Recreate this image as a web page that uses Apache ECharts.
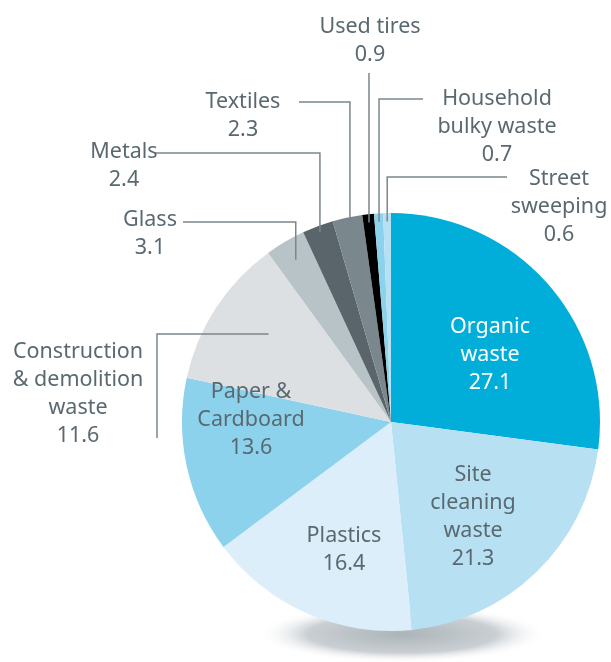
<!DOCTYPE html>
<html>
<head>
<meta charset="utf-8">
<script src="https://cdn.jsdelivr.net/npm/echarts@6/dist/echarts.min.js"></script>
<style>html,body{margin:0;padding:0;background:#fff}#c{width:611px;height:662px}</style>
</head>
<body>
<div id="c"></div>
<script>
// ---- data ----
const categories = [
  'Organic\nwaste',
  'Site\ncleaning\nwaste',
  'Plastics',
  'Paper &\nCardboard',
  'Construction\n& demolition\nwaste',
  'Glass',
  'Metals',
  'Textiles',
  'Used tires',
  'Household\nbulky waste',
  'Street\nsweeping'
];
const values = [27.1, 21.3, 16.4, 13.6, 11.6, 3.1, 2.4, 2.3, 0.9, 0.7, 0.6];

// ---- styles / layout ----
const colors = ['#00aed9', '#b7e0f2', '#dceef9', '#8cd2ed', '#dce0e3', '#b8c3c7',
                '#59656b', '#7a878d', '#000000', '#8cd2ed', '#b7e0f2'];
const textColor = '#5a6970';
const CX = 391, CY = 422, R = 209;
// label centre positions
const labelPos = [
  [490, 355], [473, 517], [344, 550], [251, 420], [78, 394],
  [150, 234], [124, 166], [243, 116], [370, 41], [497, 127], [559, 207]
];
// leader routing: [type, k(anchor radius fraction), elbow, end, (h: line y)]
const routes = [
  null, null, null, null,
  ['h', 0.70, 157, 438, 334],
  ['v', 0.90, 222, 183],
  ['v', 0.97, 153, 155],
  ['v', 0.94, 102, 299],
  ['s', 0.96, 73, null],
  ['v', 0.96, 99, 423],
  ['v', 0.96, 177, 507]
];
const insideIdx = [0, 1, 2, 3];

const total = values.reduce((a, b) => a + b, 0);
function anchorOf(i, k) {
  let before = 0;
  for (let j = 0; j < i; j++) before += values[j];
  const mid = (before + values[i] / 2) / total * Math.PI * 2; // clockwise from top
  return [CX + Math.sin(mid) * R * k, CY - Math.cos(mid) * R * k];
}

const sliceData = categories.map((n, i) => ({
  name: n, value: values[i], itemStyle: { color: colors[i] }
}));
const labelData = categories.map((n, i) => {
  const inside = insideIdx.indexOf(i) >= 0;
  return {
    name: n,
    value: values[i],
    label: inside ? { position: 'inside', color: i === 0 ? '#ffffff' : textColor } : {},
    labelLine: { show: !inside }
  };
});

const common = {
  type: 'pie',
  center: [CX, CY],
  radius: [0, R],
  startAngle: 90,
  clockwise: true,
  avoidLabelOverlap: false,
  minShowLabelAngle: 0,
  emphasis: { disabled: true },
  silent: true
};

const chart = echarts.init(document.getElementById('c'), null, { renderer: 'canvas' });
chart.setOption({
  animation: false,
  backgroundColor: '#ffffff',
  graphic: [{
    type: 'circle',
    z: 0,
    x: 402, y: 634,
    scaleY: 0.2,
    shape: { cx: 0, cy: 0, r: 145 },
    style: {
      fill: {
        type: 'radial', x: 0.5, y: 0.5, r: 0.5,
        colorStops: [
          { offset: 0, color: 'rgba(172,180,185,1)' },
          { offset: 0.65, color: 'rgba(198,204,208,0.95)' },
          { offset: 1, color: 'rgba(255,255,255,0)' }
        ]
      }
    }
  }],
  series: [
    Object.assign({}, common, {
      z: 2,
      itemStyle: { borderWidth: 0 },
      label: { show: false },
      labelLine: { show: false },
      data: sliceData
    }),
    Object.assign({}, common, {
      z: 3,
      itemStyle: { color: 'rgba(0,0,0,0)', borderWidth: 0 },
      label: {
        show: true,
        position: 'outside',
        alignTo: 'none',
        formatter: '{b}\n{c}',
        color: textColor,
        fontFamily: 'Noto Sans',
        fontSize: 21.5,
        lineHeight: 28,
        align: 'center'
      },
      labelLine: {
        show: true,
        lineStyle: { color: '#7b878c', width: 1.5 }
      },
      labelLayout: function (p) {
        const i = p.dataIndex;
        const pos = labelPos[i];
        const out = { x: pos[0], y: pos[1], align: 'center', verticalAlign: 'middle' };
        const r = routes[i];
        if (r) {
          const a = anchorOf(i, r[1]);
          let pts;
          if (r[0] === 'h') pts = [[a[0], r[4]], [r[2], r[4]], [r[2], r[3]]];
          else if (r[0] === 's') pts = [a, [a[0], (a[1] + r[2]) / 2], [a[0], r[2]]];
          else pts = [a, [a[0], r[2]], [r[3], r[2]]];
          out.labelLinePoints = pts;
        }
        return out;
      },
      data: labelData
    })
  ]
});
</script>
</body>
</html>
